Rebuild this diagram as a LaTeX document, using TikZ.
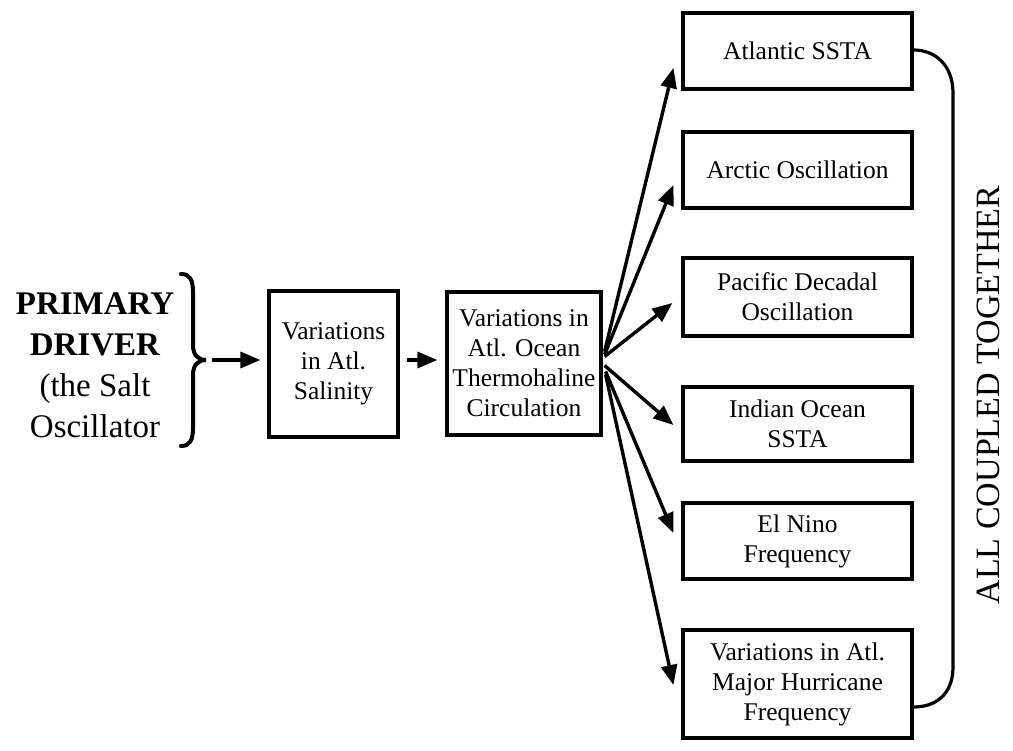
\documentclass[tikz,border=0pt]{standalone}
\usepackage{fontspec}
\setmainfont{Liberation Serif}
\usetikzlibrary{arrows.meta,calc}
\begin{document}
\begin{tikzpicture}[x=1pt,y=-1pt,
  boxstyle/.style={draw,line width=3.2pt,align=center,inner sep=0pt,
    font=\fontsize{25.5}{30}\selectfont},
  rbox/.style={boxstyle,minimum width=229pt},
  arr/.style={line width=3.4pt,-{Triangle[length=20pt,width=16pt]}},
  bigtext/.style={align=center,font=\fontsize{33}{41}\selectfont}]
\path[use as bounding box,fill=white] (0,0) rectangle (1013,751);

% left label and brace
\node[bigtext] (drv) at (95,365) {\textbf{PRIMARY}\\\textbf{DRIVER}\\(the Salt\\Oscillator};
\draw[line width=4pt,line cap=round]
  (181,274) .. controls (190,274) and (193,280) .. (193,292)
  -- (193,345) .. controls (193,355) and (198,360) .. (206,360)
  .. controls (198,360) and (193,365) .. (193,375)
  -- (193,428) .. controls (193,440) and (190,446) .. (181,446);
\coordinate (bracetip) at (206,360);

% middle boxes
\node[boxstyle,minimum width=129pt,minimum height=146pt] (sal) at (333.5,364) {Variations\\in Atl.\\Salinity};
\node[boxstyle,minimum width=154pt,minimum height=143pt] (thc) at (524,363.5) {Variations in\\Atl. Ocean\\Thermohaline\\Circulation};

% right boxes
\node[rbox,minimum height=76pt] (b1) at (797.5,51) {Atlantic SSTA};
\node[rbox,minimum height=76pt] (b2) at (797.5,170) {Arctic Oscillation};
\node[rbox,minimum height=78pt] (b3) at (797.5,297) {Pacific Decadal\\Oscillation};
\node[rbox,minimum height=74pt] (b4) at (797.5,424) {Indian Ocean\\SSTA};
\node[rbox,minimum height=76pt] (b5) at (797.5,541) {El Nino\\Frequency};
\node[rbox,minimum height=108pt] (b6) at (797.5,684) {Variations in Atl.\\Major Hurricane\\Frequency};

% arrows
\draw[arr,shorten <=6pt,shorten >=7pt] (bracetip) -- (bracetip -| sal.west);
\draw[arr,shorten <=7pt,shorten >=8pt] (bracetip -| sal.east) -- (bracetip -| thc.west);

\draw[arr] ([xshift=2pt,yshift=12pt]thc.east) -- ([xshift=-8pt,yshift=-17pt]b1.west);
\draw[arr] ([xshift=2pt,yshift=9pt]thc.east) -- ([xshift=-8pt,yshift=-15pt]b2.west);
\draw[arr] ([xshift=2pt,yshift=7pt]thc.east) -- ([xshift=-9pt,yshift=-6pt]b3.west);
\draw[arr] ([xshift=2pt,yshift=-2pt]thc.east) -- ([xshift=-8pt,yshift=-1pt]b4.west);
\draw[arr] ([xshift=3pt,yshift=-8pt]thc.east) -- ([xshift=-8pt,yshift=8pt]b5.west);
\draw[arr] ([xshift=3pt,yshift=-11pt]thc.east) -- ([xshift=-8pt,yshift=-1pt]b6.west);

% coupling bracket
\draw[line width=3.2pt] ([yshift=1pt]b1.east) .. controls (935,50) and (953,65) .. (953,93)
  -- (953,667) .. controls (953,695) and (935,707) .. ([yshift=-23pt]b6.east);
\node[rotate=90,font=\fontsize{34}{34}\selectfont] (coup) at (988,395) {ALL COUPLED TOGETHER};
\end{tikzpicture}
\end{document}
